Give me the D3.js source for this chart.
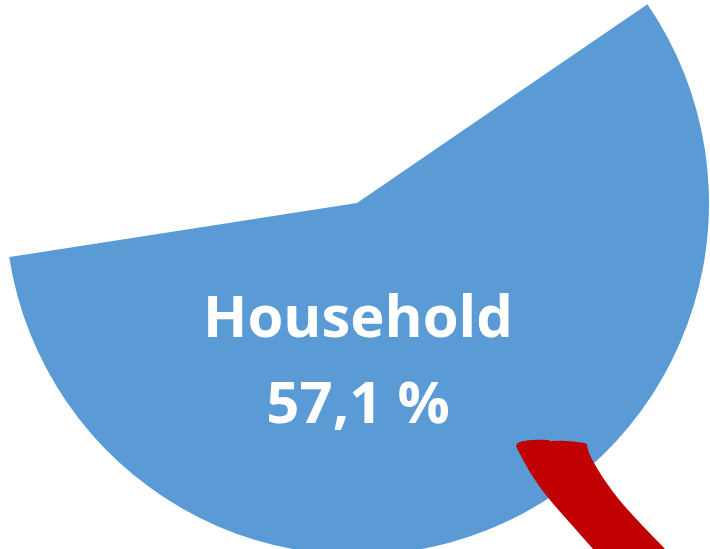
<!DOCTYPE html>
<html>
<head>
<meta charset="utf-8">
<script src="https://cdn.jsdelivr.net/npm/d3@7"></script>
<style>
  html, body { margin: 0; padding: 0; background: #fff; overflow: hidden; }
</style>
</head>
<body>
<div id="chart"></div>
<script>
const width = 710;
const height = 549;

// Slice data (only Household is visible in the crop)
const categories = ["Household", "Other"];
const values = [57.1, 42.9];
const labels = ["Household", "57,1 %"];
const colors = ["#5B9BD5", "none"];

// red leader stroke (decoration, pixel offsets from pie centre)
const leaderTop = [[159, 243], [163, 239], [176, 237], [191, 237], [193, 239], [195, 238], [210, 238], [227, 240], [230, 242]];
const leaderRight = [[230, 242], [233, 252], [243, 270], [260, 294], [283, 320], [308, 346], [320, 360]];
const leaderLeft = [[248, 360], [236, 346], [213, 320], [193, 297], [176, 274], [163, 251], [159, 243]];

const cx = 357, cy = 203, radius = 352;

const svg = d3.select("#chart")
    .append("svg")
    .attr("width", width)
    .attr("height", height);

const start = 55.6 * Math.PI / 180;
const pie = d3.pie()
    .sort(null)
    .startAngle(start)
    .endAngle(start + 2 * Math.PI);

const arc = d3.arc().innerRadius(0).outerRadius(radius);

const g = svg.append("g").attr("transform", `translate(${cx},${cy})`);

g.selectAll("path.slice")
    .data(pie(values))
    .enter()
    .append("path")
    .attr("class", "slice")
    .attr("d", arc)
    .attr("fill", (d, i) => colors[i]);

// red shape on top
const smooth = d3.line().curve(d3.curveNatural);
const leaderPath = smooth(leaderTop)
    + "L" + smooth(leaderRight).slice(1)
    + "L" + smooth(leaderLeft).slice(1) + "Z";
g.append("path")
    .attr("d", leaderPath)
    .attr("fill", "#C00000");

// label
const label = g.append("text")
    .attr("text-anchor", "middle")
    .attr("fill", "#fff")
    .style("font-family", "'Open Sans', sans-serif")
    .style("font-weight", "bold")
    .style("font-size", "58px");

label.selectAll("tspan")
    .data(labels)
    .enter()
    .append("tspan")
    .attr("x", 1)
    .attr("y", (d, i) => 134 + i * 86)
    .text(d => d);
</script>
</body>
</html>
